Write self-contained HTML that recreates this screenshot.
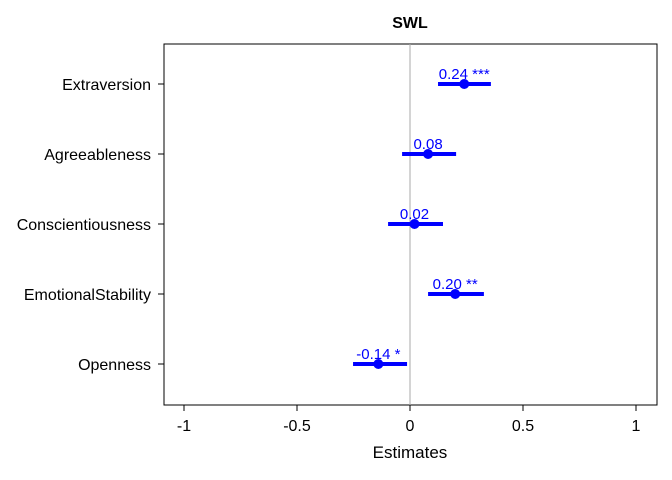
<!DOCTYPE html>
<html><head><meta charset="utf-8">
<style>body{margin:0;background:#fff}svg{display:block;font-family:"Liberation Sans",Arial,sans-serif}</style>
</head><body>
<svg id="chart" width="672" height="480">
<rect x="0" y="0" width="672" height="480" fill="#fff"/>
<text x="410" y="28" text-anchor="middle" font-size="16" font-weight="bold">SWL</text>
<rect x="164" y="44" width="493" height="361" fill="none" stroke="#000" stroke-width="1"/>
<g id="marks"></g>
<text x="410" y="458" text-anchor="middle" font-size="17">Estimates</text>
</svg>
<script>
const categories = ["Extraversion","Agreeableness","Conscientiousness","EmotionalStability","Openness"];
const estimates = [0.24, 0.08, 0.02, 0.20, -0.14];
const ciLow = [0.124, -0.035, -0.097, 0.08, -0.252];
const ciHigh = [0.358, 0.204, 0.146, 0.327, -0.013];
const labels = ["0.24 ***","0.08","0.02","0.20 **","-0.14 *"];
const xTicks = [-1,-0.5,0,0.5,1];
const xTickLabels = ["-1","-0.5","0","0.5","1"];

const ns="http://www.w3.org/2000/svg";
const g=document.getElementById('marks');
const x=v=>410+v*226;
const y=i=>84+i*70;
function mk(t,a){const e=document.createElementNS(ns,t);for(const k in a)e.setAttribute(k,a[k]);g.appendChild(e);return e;}
let zl=mk('line',{x1:x(0),x2:x(0),y1:44,y2:405,stroke:'#aaa','stroke-width':1});


xTicks.forEach((t,i)=>{
 let l=mk('line',{x1:x(t),x2:x(t),y1:405,y2:411,stroke:'#000'});
 
 
 let tx=mk('text',{x:x(t),y:431,'text-anchor':'middle','font-size':16});
 tx.textContent=xTickLabels[i];
 
 
});
categories.forEach((c,i)=>{
 let l=mk('line',{x1:158,x2:164,y1:y(i),y2:y(i),stroke:'#000'});
 
 
 let tx=mk('text',{x:151,y:y(i)+6,'text-anchor':'end','font-size':16});
 tx.textContent=c;
 
 
 let ci=mk('line',{x1:x(ciLow[i]),x2:x(ciHigh[i]),y1:y(i),y2:y(i),stroke:'#0000ff','stroke-width':4});
 
 
 let p=mk('circle',{cx:x(estimates[i]),cy:y(i),r:5,fill:'#0000ff'});
 
 
 let lb=mk('text',{x:x(estimates[i]),y:y(i)-5,'text-anchor':'middle','font-size':15,fill:'#0000ff'});
 lb.textContent=labels[i];
 
 
});
</script>
</body></html>
